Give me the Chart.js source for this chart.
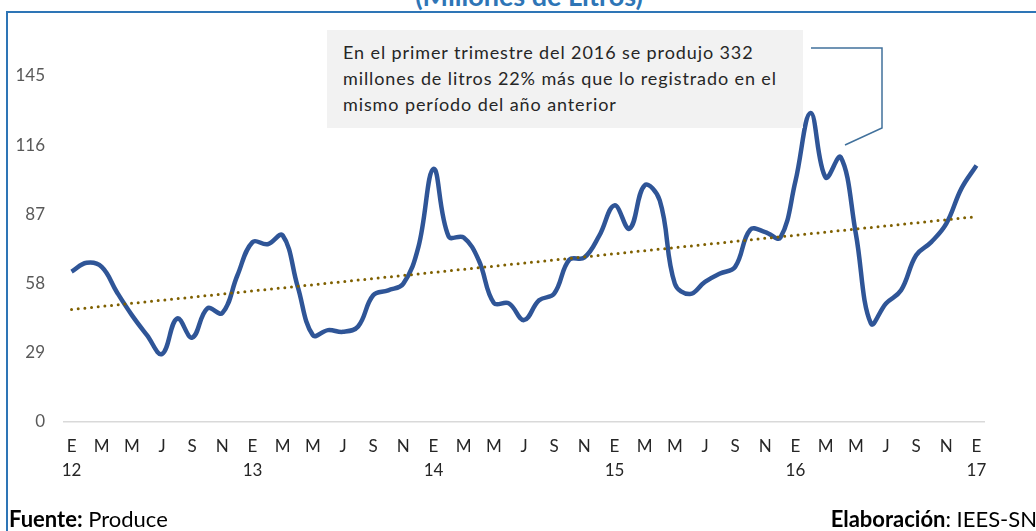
<!DOCTYPE html>
<html>
<head>
<meta charset="utf-8">
<script src="https://cdn.jsdelivr.net/npm/chart.js@4/dist/chart.umd.min.js"></script>
<style>
  html, body { margin: 0; padding: 0; background: #fff; }
  #wrap { position: relative; width: 1036px; height: 531px; overflow: hidden; font-family: Lato, "Open Sans", sans-serif; }
  #grafica { position: absolute; left: 0; top: 0; }
  #marco { position: absolute; left: 6px; top: 11px; width: 1100px; height: 600px; border-left: 2px solid #2e75b6; border-top: 2px solid #2e75b6; }
  #titulo { position: absolute; left: 0; width: 1058px; top: -18px; text-align: center; font-weight: bold; font-size: 27px; line-height: 27px; color: #2e75b6; }
  #nota { position: absolute; left: 327px; top: 30px; width: 476px; height: 98px; background: #f2f2f2; box-sizing: border-box; padding: 9px 0 0 16px; font-size: 18px; letter-spacing: 0.9px; line-height: 26px; color: #262626; white-space: nowrap; }
  #conector { position: absolute; left: 0; top: 0; }
  .pie { position: absolute; top: 508px; font-size: 22px; line-height: 22px; color: #000; }
</style>
</head>
<body>
<div id="wrap">
  <div id="marco"></div>
  <div id="titulo">(Millones de Litros)</div>
  <canvas id="grafica" width="1036" height="531"></canvas>
  <div id="nota">En el primer trimestre del 2016 se produjo 332<br>millones de litros 22% más que lo registrado en el<br>mismo período del año anterior</div>
  <svg id="conector" width="1036" height="531"><polyline points="811,48 882,48 882,128 845,145" fill="none" stroke="#41719c" stroke-width="1.5"/></svg>
  <div class="pie" style="left:9px"><b>Fuente:</b> Produce</div>
  <div class="pie" style="right:-1px"><b>Elaboración</b>: IEES-SN</div>
</div>
<script>
// letras de los meses y años del eje
var letrasMes = ['E', 'F', 'M', 'A', 'M', 'J', 'J', 'A', 'S', 'O', 'N', 'D'];
var anios = ['12', '13', '14', '15', '16', '17'];

// produccion mensual (millones de litros), ene-12 a ene-17
var valores2012 = [63, 66.7, 65, 54.5, 44.8, 36.4, 28.5, 43.4, 35.4, 47.6, 45.7, 61.5];
var valores2013 = [75.4, 74.5, 78.2, 56.6, 36.4, 38.5, 37.8, 40, 53.1, 55.2, 58, 73.4];
var valores2014 = [106.1, 77.8, 77.3, 67.8, 49.9, 49.7, 42.7, 51, 53.8, 68, 68.9, 78.2];
var valores2015 = [90.8, 81, 99.2, 92.9, 58, 53.6, 58.7, 62.2, 65, 80.6, 79.6, 77.3];
var valores2016 = [101, 129.5, 102.5, 111, 79, 41.3, 49.7, 55.2, 69.9, 75.4, 83.1, 97.8];
var valores2017 = [107.5];

var marcasY = [0, 29, 58, 87, 116, 145];

var valores = [].concat(valores2012, valores2013, valores2014, valores2015, valores2016, valores2017);

// etiquetas: letra del mes y año debajo de enero
var etiquetas = [];
for (var i = 0; i < valores.length; i++) {
    var m = i % 12;
    if (m === 0) {
        etiquetas.push([letrasMes[m], anios[i / 12]]);
    } else {
        etiquetas.push(letrasMes[m]);
    }
}

// linea de tendencia (minimos cuadrados)
var n = valores.length, sx = 0, sy = 0, sxy = 0, sxx = 0;
for (var i = 0; i < n; i++) {
    sx += i; sy += valores[i]; sxy += i * valores[i]; sxx += i * i;
}
var pendiente = (n * sxy - sx * sy) / (n * sxx - sx * sx);
var corte = (sy - pendiente * sx) / n;
var tendencia = valores.map(function(v, i) { return corte + pendiente * i; });

new Chart(document.getElementById('grafica'), {
    type: 'line',
    data: {
        labels: etiquetas,
        datasets: [
            {
                label: 'Tendencia',
                data: tendencia,
                borderColor: '#7f6000',
                borderWidth: 3,
                borderDash: [0, 6.7],
                borderCapStyle: 'round',
                pointRadius: 0,
                tension: 0,
                order: 0
            },
            {
                label: 'Produccion',
                data: valores,
                borderColor: '#2f5597',
                borderWidth: 4.5,
                pointRadius: 0,
                tension: 0.4,
                order: 1
            }
        ]
    },
    options: {
        responsive: false,
        animation: false,
        layout: { padding: { left: 0, right: 52, top: 76, bottom: 0 } },
        plugins: { legend: { display: false }, tooltip: { enabled: false } },
        scales: {
            x: {
                offset: true,
                grid: { display: false, drawTicks: false },
                border: { display: true, color: '#d9d9d9', width: 1.5 },
                ticks: {
                    autoSkip: false,
                    maxRotation: 0,
                    minRotation: 0,
                    padding: 13,
                    color: '#262626',
                    font: { family: 'Lato', size: 17, lineHeight: 1.41 },
                    callback: function(val, idx) {
                        return idx % 2 === 0 ? etiquetas[idx] : '';
                    }
                },
                afterFit: function(scale) { scale.height = 109; }
            },
            y: {
                min: 0,
                max: 145,
                grid: { display: false, drawTicks: false },
                border: { display: false },
                afterBuildTicks: function(scale) {
                    scale.ticks = marcasY.map(function(v) { return { value: v }; });
                },
                ticks: {
                    padding: 19,
                    color: '#595959',
                    font: { family: 'Lato', size: 17 }
                },
                afterFit: function(scale) { scale.width = 64; }
            }
        }
    }
});
</script>
</body>
</html>
